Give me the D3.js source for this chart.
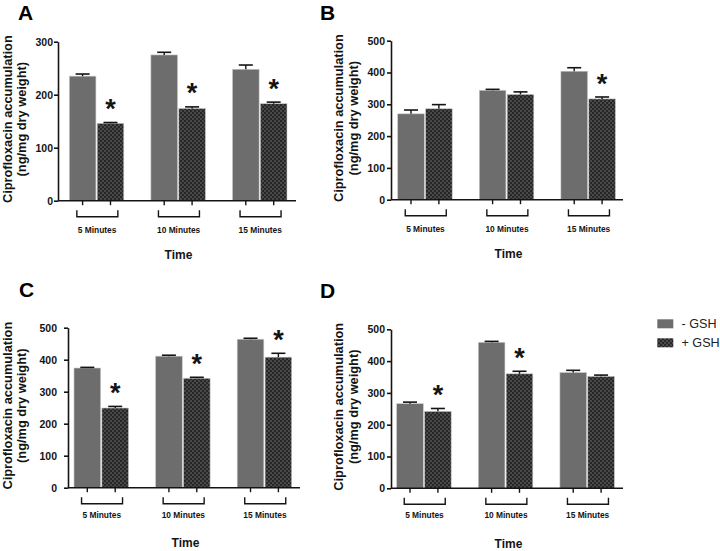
<!DOCTYPE html>
<html>
<head>
<meta charset="utf-8">
<script src="https://cdn.jsdelivr.net/npm/d3@7"></script>
<style>
  html, body { margin: 0; padding: 0; background: #ffffff; }
  svg { display: block; }
  text { font-family: "Liberation Sans", Arial, Helvetica, sans-serif; }
</style>
</head>
<body>
<svg id="chart" width="720" height="551"></svg>
<script>
// ---------- DATA ----------
const groups = ["5 Minutes", "10 Minutes", "15 Minutes"];
const seriesNames = ["- GSH", "+ GSH"];

const panelNames = ["A", "B", "C", "D"];

const ticksA = [0, 100, 200, 300];
const ticksBCD = [0, 100, 200, 300, 400, 500];

const A_minus = [235, 275, 248];
const A_minusErr = [4, 5, 8];
const A_plus = [146, 174, 183];
const A_plusErr = [1.5, 3, 3];
const A_sig = [true, true, true];

const B_minus = [270, 344, 404];
const B_minusErr = [12, 3, 11];
const B_plus = [286, 331, 317];
const B_plusErr = [13, 8, 6];
const B_sig = [false, false, true];

const C_minus = [374, 411, 464];
const C_minusErr = [2, 3, 3];
const C_plus = [249, 342, 408];
const C_plusErr = [5, 3, 12];
const C_sig = [true, true, true];

const D_minus = [266, 459, 364];
const D_minusErr = [5, 3, 7];
const D_plus = [242, 360, 352];
const D_plusErr = [9, 8, 4];
const D_sig = [true, true, false];

const yTitle1 = "Ciprofloxacin accumulation";
const yTitle2 = "(ng/mg dry weight)";
const xTitle = "Time";

// ---------- LAYOUT ----------
const layout = {
  A: { x0: 58,  x1: 296, yTop: 41.7,  y0: 200.7, gStart: 69.3,  pad: 1, max: 300, ticks: ticksA,
       lbl: [18, 20], yl1: 12, yl2: 26, grpY: 32, timeY: 58.6 },
  B: { x0: 391, x1: 623, yTop: 40.7,  y0: 199.7, gStart: 397.7, pad: 2, max: 500, ticks: ticksBCD,
       lbl: [320, 20], yl1: 343, yl2: 357.5, grpY: 32.5, timeY: 58.5 },
  C: { x0: 68,  x1: 300, yTop: 327.7, y0: 487.7, gStart: 74,    pad: 7, max: 500, ticks: ticksBCD,
       lbl: [19, 297], yl1: 12, yl2: 26, grpY: 30.5, timeY: 59 },
  D: { x0: 391, x1: 623, yTop: 329.3, y0: 488.3, gStart: 396.7, pad: 2, max: 500, ticks: ticksBCD,
       lbl: [320, 298], yl1: 343, yl2: 357.5, grpY: 30, timeY: 59.2 }
};

const panelData = {
  A: { minus: A_minus, minusErr: A_minusErr, plus: A_plus, plusErr: A_plusErr, sig: A_sig },
  B: { minus: B_minus, minusErr: B_minusErr, plus: B_plus, plusErr: B_plusErr, sig: B_sig },
  C: { minus: C_minus, minusErr: C_minusErr, plus: C_plus, plusErr: C_plusErr, sig: C_sig },
  D: { minus: D_minus, minusErr: D_minusErr, plus: D_plus, plusErr: D_plusErr, sig: D_sig }
};

const svg = d3.select("#chart");
const ink = "#141414";
const greyFill = "#6d6d6d";

// pattern for + GSH
const defs = svg.append("defs");
const pat = defs.append("pattern")
  .attr("id", "hatch")
  .attr("patternUnits", "userSpaceOnUse")
  .attr("width", 4).attr("height", 4);
pat.append("rect").attr("width", 4).attr("height", 4).attr("fill", "#5a5a5a");
[[1,1],[3,3],[3,-1],[-1,3],[5,1],[1,5]].forEach(([px, py]) => {
  pat.append("circle").attr("cx", px).attr("cy", py).attr("r", 1.35).attr("fill", "#262626");
});

const fills = [greyFill, "url(#hatch)"];

panelNames.forEach(name => {
  const L = layout[name];
  const P = panelData[name];
  const g = svg.append("g");

  const step = 81.6, gap = 27.1;
  const x = d3.scaleBand()
    .domain(groups)
    .range([L.gStart, L.gStart + 3 * step - gap])
    .paddingInner(gap / step)
    .paddingOuter(0);
  const xs = d3.scaleBand()
    .domain(seriesNames)
    .range([0, x.bandwidth()])
    .paddingInner(0.045);
  const y = d3.scaleLinear().domain([0, L.max]).range([L.y0, L.yTop]);

  const rows = [];
  groups.forEach((grp, i) => {
    rows.push({ grp, s: seriesNames[0], v: P.minus[i], e: P.minusErr[i], sig: false, k: 0 });
    rows.push({ grp, s: seriesNames[1], v: P.plus[i], e: P.plusErr[i], sig: P.sig[i], k: 1 });
  });

  // bars
  g.selectAll("rect.bar").data(rows).join("rect")
    .attr("class", "bar")
    .attr("x", d => x(d.grp) + xs(d.s))
    .attr("width", xs.bandwidth())
    .attr("y", d => y(d.v))
    .attr("height", d => y(0) - y(d.v))
    .attr("fill", d => fills[d.k])
    .attr("stroke", "#c8c8c8")
    .attr("stroke-width", 0.6);

  // error bars (upper only)
  const cx = d => x(d.grp) + xs(d.s) + xs.bandwidth() / 2;
  g.selectAll("line.err").data(rows).join("line")
    .attr("x1", cx).attr("x2", cx)
    .attr("y1", d => y(d.v)).attr("y2", d => y(d.v + d.e))
    .attr("stroke", ink).attr("stroke-width", 1.4);
  g.selectAll("line.cap").data(rows).join("line")
    .attr("x1", d => cx(d) - 7).attr("x2", d => cx(d) + 7)
    .attr("y1", d => y(d.v + d.e)).attr("y2", d => y(d.v + d.e))
    .attr("stroke", ink).attr("stroke-width", 1.6);

  // asterisks
  const fs = 27;
  g.selectAll("text.star").data(rows.filter(d => d.sig)).join("text")
    .attr("x", cx)
    .attr("y", d => y(d.v + d.e) - 20 + 0.575 * fs)
    .attr("text-anchor", "middle")
    .attr("font-size", fs)
    .attr("font-weight", "bold")
    .attr("fill", ink)
    .text("*");

  // y axis
  const yAxis = d3.axisLeft(y).tickValues(L.ticks).tickSize(4).tickSizeOuter(0).tickPadding(L.pad);
  const ya = g.append("g").attr("transform", `translate(${L.x0},0)`).call(yAxis);
  ya.select(".domain").attr("stroke", ink).attr("stroke-width", 1.6);
  ya.selectAll(".tick line").attr("stroke", ink).attr("stroke-width", 1.6);
  ya.selectAll(".tick text")
    .attr("font-family", "'Liberation Sans', Arial, sans-serif")
    .attr("font-size", 10.5).attr("font-weight", "bold").attr("fill", ink);

  // x axis line
  g.append("line")
    .attr("x1", L.x0).attr("x2", L.x1)
    .attr("y1", L.y0).attr("y2", L.y0)
    .attr("stroke", ink).attr("stroke-width", 1.6);

  // x ticks at bar centres
  g.selectAll("line.xt").data(rows).join("line")
    .attr("x1", cx).attr("x2", cx)
    .attr("y1", L.y0).attr("y2", L.y0 + 4.5)
    .attr("stroke", ink).attr("stroke-width", 1.4);

  // brackets
  const gc = grp => x(grp) + x.bandwidth() / 2;
  groups.forEach(grp => {
    const c = gc(grp) + 0.8;
    const yb = L.y0 + 16, yt = L.y0 + 9.5;
    g.append("path")
      .attr("d", `M${c - 20.5},${yt}V${yb}H${c + 20.5}V${yt}`)
      .attr("fill", "none").attr("stroke", ink).attr("stroke-width", 1.4);
  });

  // group labels
  g.selectAll("text.grp").data(groups).join("text")
    .attr("x", d => gc(d) + 0.5)
    .attr("y", L.y0 + L.grpY)
    .attr("text-anchor", "middle")
    .attr("font-size", 8.4).attr("font-weight", "bold").attr("fill", ink)
    .text(d => d);

  // x title
  g.append("text")
    .attr("x", (L.x0 + L.x1) / 2 + 1.5)
    .attr("y", L.y0 + L.timeY)
    .attr("text-anchor", "middle")
    .attr("font-size", 12).attr("font-weight", "bold").attr("fill", ink)
    .text(xTitle);

  // y title (two lines)
  const ymid = (L.y0 + L.yTop) / 2 - 2;
  [[yTitle1, L.yl1], [yTitle2, L.yl2]].forEach(([t, xx]) => {
    g.append("text")
      .attr("transform", `translate(${xx},${ymid}) rotate(-90)`)
      .attr("text-anchor", "middle")
      .attr("font-size", 12.8).attr("font-weight", "bold").attr("fill", ink)
      .text(t);
  });

  // panel letter
  g.append("text")
    .attr("x", L.lbl[0]).attr("y", L.lbl[1])
    .attr("font-size", 21).attr("font-weight", "bold").attr("fill", "#000")
    .text(name);
});

// legend
const leg = svg.append("g");
seriesNames.forEach((s, i) => {
  const yy = 319.3 + i * 19;
  leg.append("rect")
    .attr("x", 657.3).attr("y", yy)
    .attr("width", 16).attr("height", 9)
    .attr("fill", fills[i]);
  leg.append("text")
    .attr("x", 681.5).attr("y", yy + 9)
    .attr("font-size", 12.6).attr("fill", "#222")
    .text(s);
});
</script>
</body>
</html>
